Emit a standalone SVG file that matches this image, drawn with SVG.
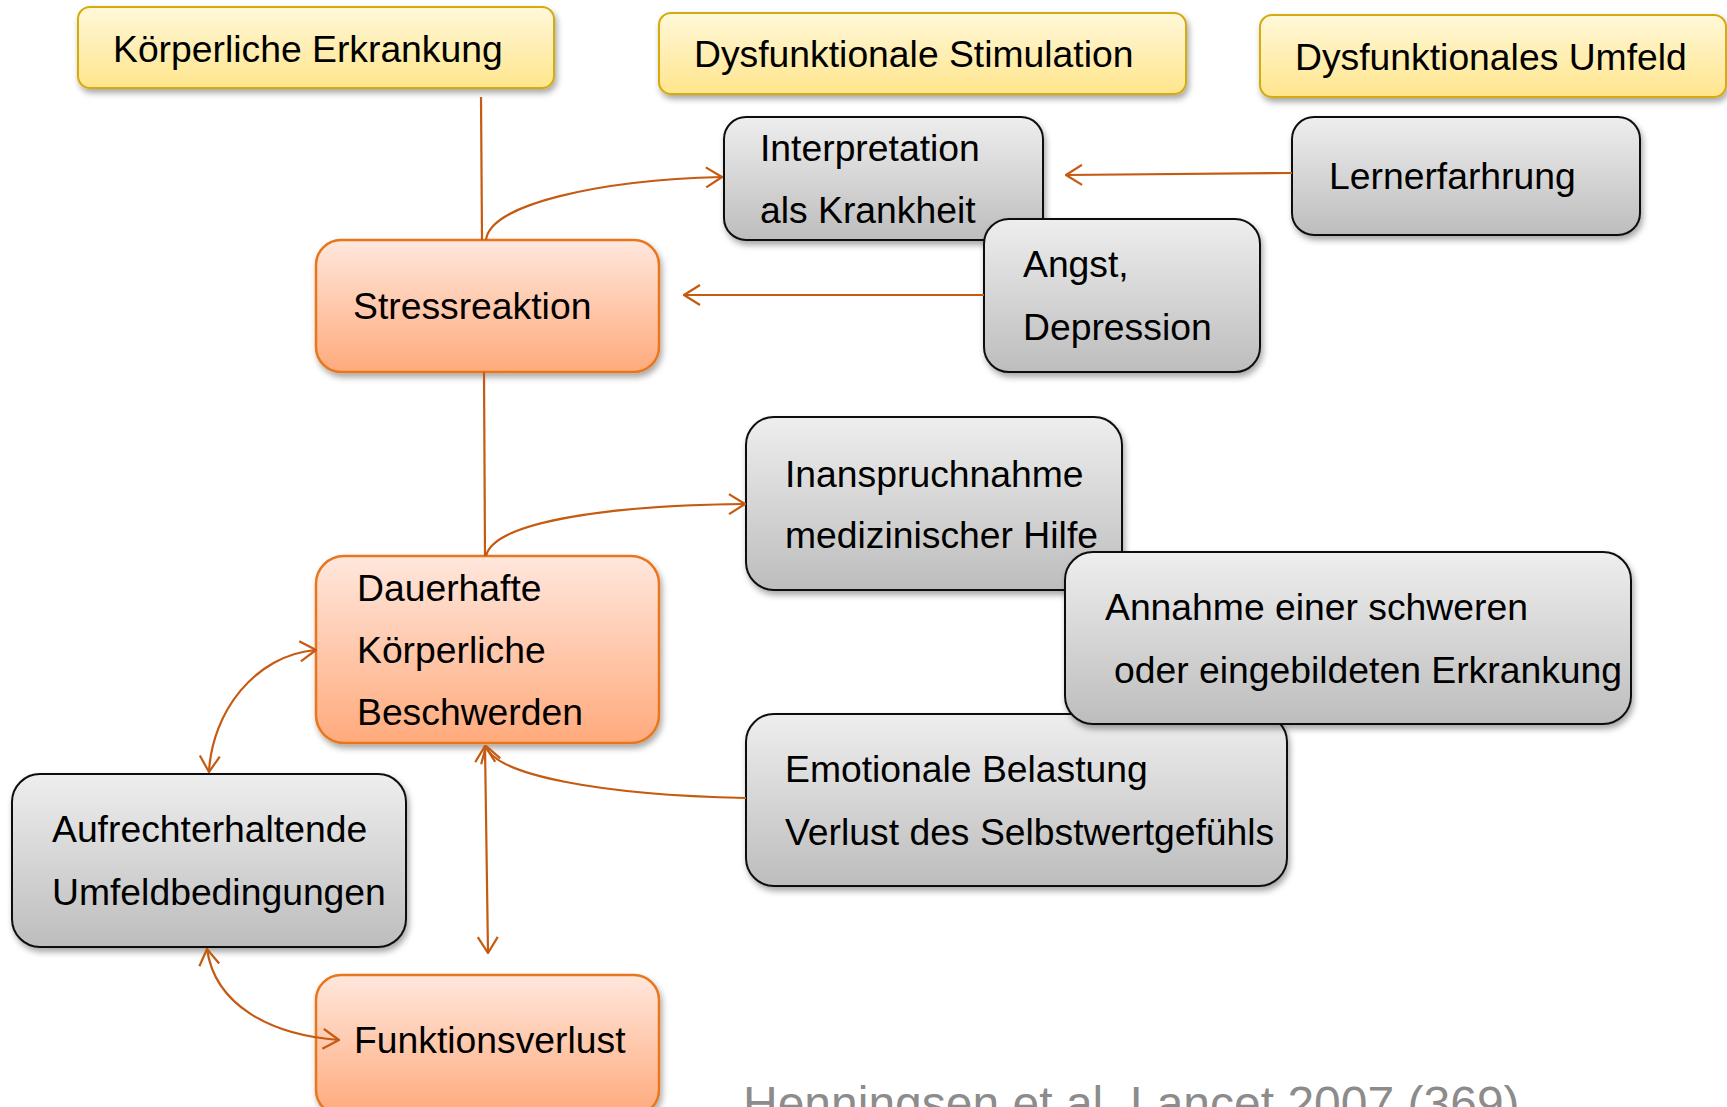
<svg xmlns="http://www.w3.org/2000/svg" width="1727" height="1107" viewBox="0 0 1727 1107">
<defs>
<linearGradient id="gY" x1="0" y1="0" x2="0" y2="1"><stop offset="0" stop-color="#FFF8DA"/><stop offset="1" stop-color="#FFE58C"/></linearGradient>
<linearGradient id="gG" x1="0" y1="0" x2="0" y2="1"><stop offset="0" stop-color="#EEEEEE"/><stop offset="1" stop-color="#BDBDBD"/></linearGradient>
<linearGradient id="gO" x1="0" y1="0" x2="0" y2="1"><stop offset="0" stop-color="#FFE7DD"/><stop offset="1" stop-color="#FFAA7C"/></linearGradient>
<filter id="sh" x="-10%" y="-10%" width="125%" height="130%"><feDropShadow dx="2" dy="4" stdDeviation="3" flood-color="#000" flood-opacity="0.35"/></filter>
<marker id="ah" viewBox="0 0 18 22" refX="17" refY="11" markerWidth="18" markerHeight="22" markerUnits="userSpaceOnUse" orient="auto-start-reverse"><path d="M1,1 L17,11 L1,21" fill="none" stroke="#C55A11" stroke-width="2.2"/></marker>
</defs>
<style>
.t{font-family:"Liberation Sans",Arial,sans-serif;font-size:37.3px;fill:#000}
.y{fill:url(#gY);stroke:#D4AC0D;stroke-width:2;filter:url(#sh)}
.g{fill:url(#gG);stroke:#111;stroke-width:2;filter:url(#sh)}
.o{fill:url(#gO);stroke:#E8761E;stroke-width:2.5;filter:url(#sh)}
.c{fill:none;stroke:#C55A11;stroke-width:2.2}
.ref{font-family:"Liberation Sans",Arial,sans-serif;font-size:48px;fill:#8C8C8C}
</style>
<rect width="1727" height="1107" fill="#fff"/>

<g id="koerperliche-erkrankung"><rect class="y" x="78" y="7" width="476" height="81" rx="12"/><text class="t" x="113" y="62">Körperliche Erkrankung</text></g>
<g id="dysfunktionale-stimulation"><rect class="y" x="659" y="13" width="527" height="81" rx="12"/><text class="t" x="694" y="67">Dysfunktionale Stimulation</text></g>
<g id="dysfunktionales-umfeld"><rect class="y" x="1260" y="15" width="466" height="82" rx="12"/><text class="t" x="1295" y="70">Dysfunktionales Umfeld</text></g>

<g id="interpretation"><rect class="g" x="724" y="117" width="319" height="123" rx="22"/><text class="t" x="760" y="161">Interpretation</text><text class="t" x="760" y="223">als Krankheit</text></g>
<g id="lernerfarhrung"><rect class="g" x="1292" y="117" width="348" height="118" rx="22"/><text class="t" x="1329" y="189">Lernerfarhrung</text></g>
<g id="angst"><rect class="g" x="984" y="219" width="276" height="153" rx="25"/><text class="t" x="1023" y="277">Angst,</text><text class="t" x="1023" y="340">Depression</text></g>
<g id="stressreaktion"><rect class="o" x="316" y="240" width="343" height="132" rx="25"/><text class="t" x="353" y="319">Stressreaktion</text></g>

<g id="inanspruchnahme"><rect class="g" x="746" y="417" width="376" height="173" rx="28"/><text class="t" x="785" y="487">Inanspruchnahme</text><text class="t" x="785" y="548">medizinischer Hilfe</text></g>
<g id="emotionale-belastung"><rect class="g" x="746" y="714" width="541" height="172" rx="28"/><text class="t" x="785" y="782">Emotionale Belastung</text><text class="t" x="785" y="845">Verlust des Selbstwertgefühls</text></g>
<g id="annahme"><rect class="g" x="1065" y="552" width="566" height="172" rx="28"/><text class="t" x="1105" y="620">Annahme einer schweren</text><text class="t" x="1114" y="683">oder eingebildeten Erkrankung</text></g>

<g id="dauerhafte-beschwerden"><rect class="o" x="316" y="556" width="343" height="187" rx="28"/><text class="t" x="357" y="601">Dauerhafte</text><text class="t" x="357" y="663">Körperliche</text><text class="t" x="357" y="725">Beschwerden</text></g>
<g id="aufrechterhaltende"><rect class="g" x="12" y="774" width="394" height="173" rx="28"/><text class="t" x="52" y="842">Aufrechterhaltende</text><text class="t" x="52" y="905">Umfeldbedingungen</text></g>
<g id="funktionsverlust"><rect class="o" x="316" y="975" width="343" height="140" rx="25"/><text class="t" x="354" y="1053">Funktionsverlust</text></g>

<g id="connectors">
<path class="c" d="M481,97 L482,240"/>
<path class="c" d="M486,240 C490,204 600,180 722,177" marker-end="url(#ah)"/>
<path class="c" d="M1292,173 L1066,175" marker-end="url(#ah)"/>
<path class="c" d="M984,295 L684,295" marker-end="url(#ah)"/>
<path class="c" d="M484,372 L485,556"/>
<path class="c" d="M486,556 C494,520 620,505 745,504" marker-end="url(#ah)"/>
<path class="c" d="M746,798 C600,795 495,775 486,746" marker-end="url(#ah)"/>
<path class="c" d="M485,746 L488,953" marker-start="url(#ah)" marker-end="url(#ah)"/>
<path class="c" d="M316,650 C255,655 212,712 209,772" marker-start="url(#ah)" marker-end="url(#ah)"/>
<path class="c" d="M207,949 C215,1005 270,1035 339,1040" marker-start="url(#ah)" marker-end="url(#ah)"/>
</g>

<text class="ref" x="743" y="1120">Henningsen et al. Lancet 2007 (369)</text>
</svg>
